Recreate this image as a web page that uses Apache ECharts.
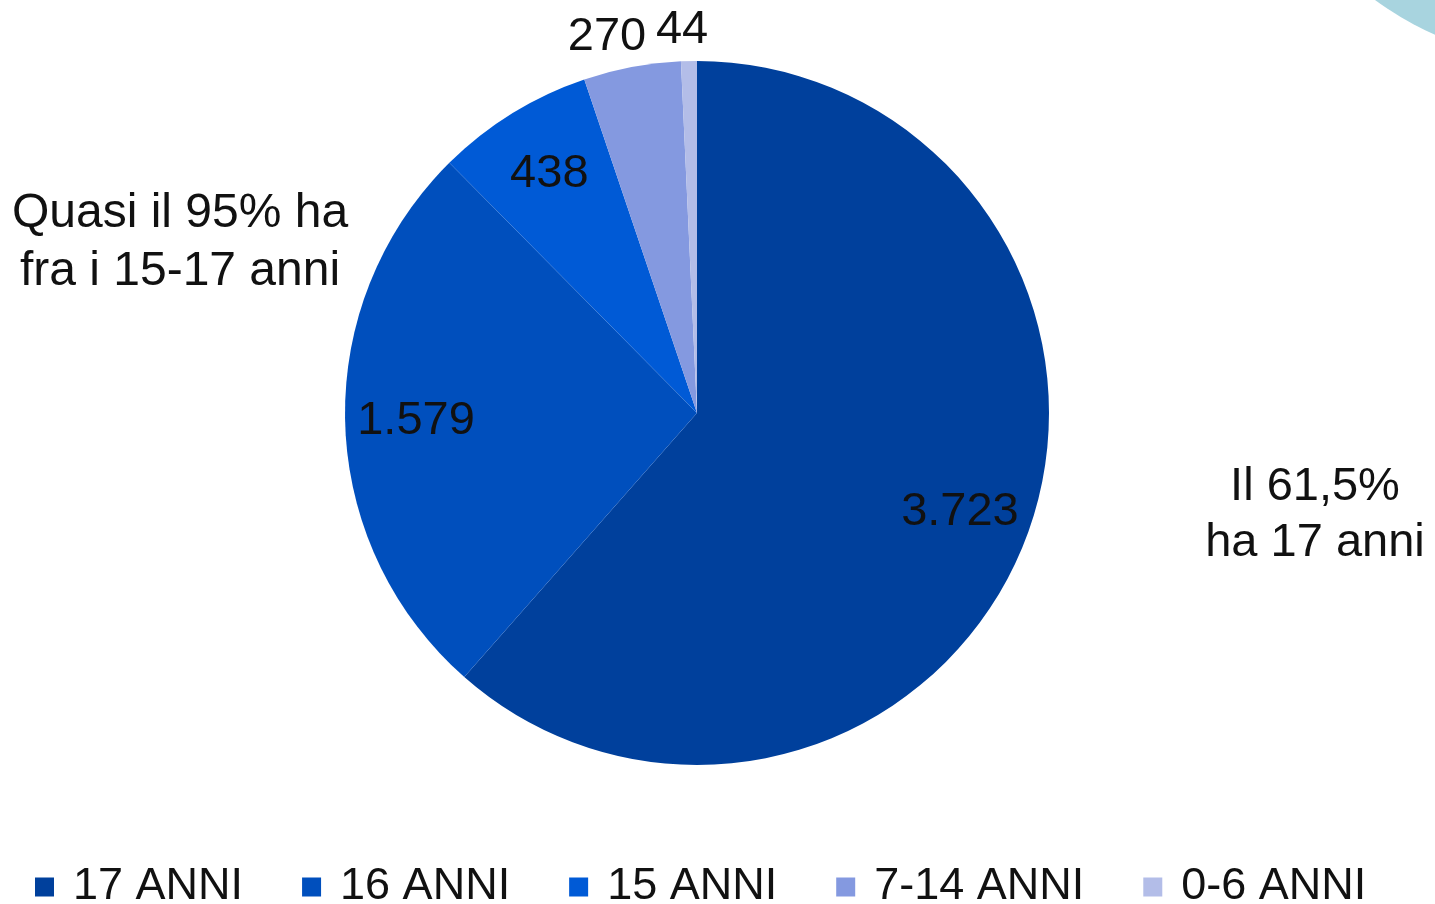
<!DOCTYPE html>
<html>
<head>
<meta charset="utf-8">
<script src="https://cdn.jsdelivr.net/npm/echarts@6/dist/echarts.min.js"></script>
<style>
  html, body { margin: 0; padding: 0; background: #fff; }
  #chart { width: 1435px; height: 904px; }
</style>
</head>
<body>
<div id="chart"></div>
<script>
// data
const categories = ['17 ANNI', '16 ANNI', '15 ANNI', '7-14 ANNI', '0-6 ANNI'];
const values = [3723, 1579, 438, 270, 44];
const valueLabels = ['3.723', '1.579', '438', '270', '44'];
const colors = ['#00409c', '#004fbd', '#005ad6', '#8499e0', '#b3bde8'];
// slices whose label sits outside the pie
const outsideLabel = [false, false, false, true, true];

const FONT = 'Liberation Sans, Arial, sans-serif';
const center = [697, 413];
const R = 352;

const chart = echarts.init(document.getElementById('chart'));

const mainData = categories.map((name, i) => ({
    name: name,
    value: values[i],
    itemStyle: { color: colors[i] }
}));

// transparent overlays only used to place the value labels
function labelRing(showOutside) {
    return categories.map((name, i) => ({
        name: name,
        value: values[i],
        label: { show: outsideLabel[i] === showOutside, formatter: valueLabels[i] }
    }));
}

const option = {
    animation: false,
    legend: {
        data: categories,
        top: 861,
        left: 35,
        padding: 0,
        icon: 'rect',
        itemWidth: 19,
        itemHeight: 19,
        itemGap: 59,
        selectedMode: false,
        textStyle: {
            fontFamily: FONT, fontSize: 45, color: '#111',
            lineHeight: 52, padding: [0, 0, 0, 14]
        }
    },
    graphic: [
        {
            type: 'circle',
            shape: { cx: 1560, cy: -250, r: 311 },
            style: { fill: '#a8d4df' },
            silent: true
        },
        {
            type: 'text',
            x: 180,
            y: 185,
            style: {
                text: 'Quasi il 95% ha\nfra i 15-17 anni',
                font: '48px ' + FONT,
                fill: '#111',
                align: 'center',
                verticalAlign: 'top',
                lineHeight: 58
            }
        },
        {
            type: 'text',
            x: 1315,
            y: 459,
            style: {
                text: 'Il 61,5%\nha 17 anni',
                font: '47px ' + FONT,
                fill: '#111',
                align: 'center',
                verticalAlign: 'top',
                lineHeight: 56
            }
        }
    ],
    series: [
        {
            type: 'pie',
            center: center,
            radius: [0, R],
            startAngle: 90,
            clockwise: true,
            silent: true,
            label: { show: false },
            labelLine: { show: false },
            itemStyle: { borderWidth: 0 },
            data: mainData
        },
        {
            type: 'pie',
            center: center,
            radius: [R * 0.58, R],
            startAngle: 90,
            clockwise: true,
            silent: true,
            itemStyle: { color: 'rgba(0,0,0,0)', borderWidth: 0 },
            label: { position: 'inside', fontFamily: FONT, fontSize: 47, color: '#111' },
            labelLine: { show: false },
            data: labelRing(false)
        },
        {
            type: 'pie',
            center: center,
            radius: [0, R],
            startAngle: 90,
            clockwise: true,
            silent: true,
            avoidLabelOverlap: false,
            itemStyle: { color: 'rgba(0,0,0,0)', borderWidth: 0 },
            label: { position: 'outside', fontFamily: FONT, fontSize: 47, color: '#111' },
            labelLine: { show: false, length: 31, length2: -25 },
            data: labelRing(true)
        }
    ]
};

chart.setOption(option);
</script>
</body>
</html>
